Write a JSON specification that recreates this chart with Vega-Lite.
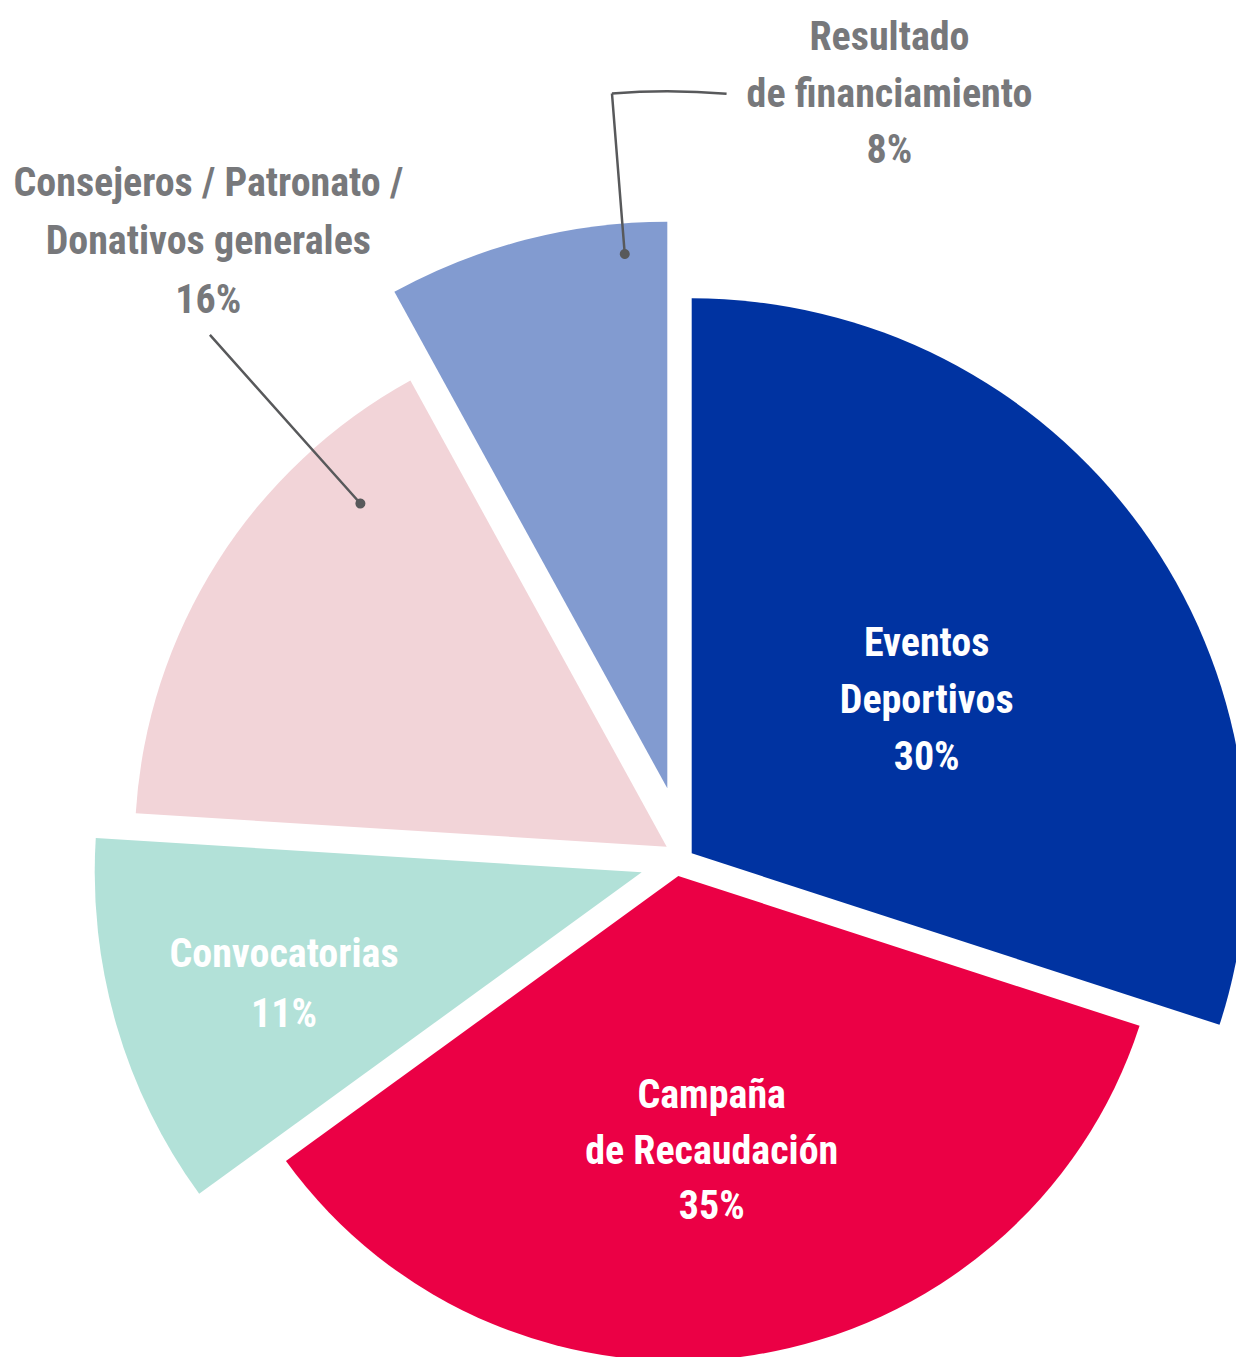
{
  "$schema": "https://vega.github.io/schema/vega-lite/v6.json",
  "width": 1236,
  "height": 1357,
  "autosize": {"type": "none"},
  "padding": 0,
  "background": "white",
  "config": {
    "view": {"stroke": null},
    "text": {"font": "Roboto Condensed, Roboto, sans-serif", "fontWeight": "bold", "fontSize": 40, "align": "center", "baseline": "alphabetic", "lineBreak": "\n", "lineHeight": 57}
  },
  "data": {
    "values": [
      {"fuente": "Eventos Deportivos", "etiqueta": "Eventos\nDeportivos", "participacion": 0.30},
      {"fuente": "Campaña de Recaudación", "etiqueta": "Campaña\nde Recaudación", "participacion": 0.35},
      {"fuente": "Convocatorias", "etiqueta": "Convocatorias", "participacion": 0.11},
      {"fuente": "Consejeros / Patronato / Donativos generales", "etiqueta": "Consejeros / Patronato /\nDonativos generales", "participacion": 0.16},
      {"fuente": "Resultado de financiamiento", "etiqueta": "Resultado\nde financiamiento", "participacion": 0.08}
    ]
  },
  "transform": [
    {"stack": "participacion", "groupby": [], "as": ["inicio", "fin"]}
  ],
  "layer": [
    {
      "transform": [{"filter": {"field": "fuente", "equal": "Eventos Deportivos"}}],
      "mark": {"type": "arc", "x": 691.7, "y": 853.3, "radius": 555},
      "encoding": {
        "theta": {"field": "inicio", "type": "quantitative", "stack": null, "scale": {"domain": [0, 1]}},
        "theta2": {"field": "fin"},
        "color": {"field": "fuente", "type": "nominal", "legend": null, "scale": {"domain": ["Eventos Deportivos", "Campaña de Recaudación", "Convocatorias", "Consejeros / Patronato / Donativos generales", "Resultado de financiamiento"], "range": ["#0033A1", "#EB0045", "#B2E1D8", "#F2D4D8", "#829BD0"]}}
      }
    },
    {
      "transform": [{"filter": {"field": "fuente", "equal": "Campaña de Recaudación"}}],
      "mark": {"type": "arc", "x": 678.3, "y": 876, "radius": 485},
      "encoding": {
        "theta": {"field": "inicio", "type": "quantitative", "stack": null},
        "theta2": {"field": "fin"},
        "color": {"field": "fuente", "type": "nominal", "legend": null}
      }
    },
    {
      "transform": [{"filter": {"field": "fuente", "equal": "Convocatorias"}}],
      "mark": {"type": "arc", "x": 641.7, "y": 872.3, "radius": 547},
      "encoding": {
        "theta": {"field": "inicio", "type": "quantitative", "stack": null},
        "theta2": {"field": "fin"},
        "color": {"field": "fuente", "type": "nominal", "legend": null}
      }
    },
    {
      "transform": [{"filter": {"field": "fuente", "equal": "Consejeros / Patronato / Donativos generales"}}],
      "mark": {"type": "arc", "x": 666.7, "y": 846.7, "radius": 532},
      "encoding": {
        "theta": {"field": "inicio", "type": "quantitative", "stack": null},
        "theta2": {"field": "fin"},
        "color": {"field": "fuente", "type": "nominal", "legend": null}
      }
    },
    {
      "transform": [{"filter": {"field": "fuente", "equal": "Resultado de financiamiento"}}],
      "mark": {"type": "arc", "x": 667.3, "y": 788.3, "radius": 566.5},
      "encoding": {
        "theta": {"field": "inicio", "type": "quantitative", "stack": null},
        "theta2": {"field": "fin"},
        "color": {"field": "fuente", "type": "nominal", "legend": null}
      }
    },
    {
      "transform": [{"filter": {"field": "fuente", "equal": "Resultado de financiamiento"}}],
      "mark": {"type": "arc", "x": 667.3, "y": 788.3, "radius": 697, "radius2": 536, "thetaOffset": 0.4232, "theta2Offset": 0.4232, "filled": false, "stroke": "#58595B", "strokeWidth": 2.5},
      "encoding": {
        "theta": {"field": "inicio", "type": "quantitative", "stack": null},
        "theta2": {"field": "inicio"}
      }
    },
    {
      "transform": [{"filter": {"field": "fuente", "equal": "Resultado de financiamiento"}}],
      "mark": {"type": "arc", "x": 667.3, "y": 788.3, "radius": 697, "radius2": 697, "thetaOffset": 0.4232, "theta2Offset": 0.5878, "filled": false, "stroke": "#58595B", "strokeWidth": 2.5},
      "encoding": {
        "theta": {"field": "inicio", "type": "quantitative", "stack": null},
        "theta2": {"field": "inicio"}
      }
    },
    {
      "transform": [{"filter": {"field": "fuente", "equal": "Resultado de financiamiento"}}],
      "mark": {"type": "arc", "x": 667.3, "y": 788.3, "radius": 541, "radius2": 531, "thetaOffset": 0.4139, "theta2Offset": 0.4325, "cornerRadius": 5, "fill": "#58595B"},
      "encoding": {
        "theta": {"field": "inicio", "type": "quantitative", "stack": null},
        "theta2": {"field": "inicio"}
      }
    },
    {
      "transform": [{"filter": {"field": "fuente", "equal": "Consejeros / Patronato / Donativos generales"}}],
      "mark": {"type": "arc", "x": 666.7, "y": 846.7, "radius": 686, "radius2": 460, "thetaOffset": 0.7793, "theta2Offset": 0.7793, "filled": false, "stroke": "#58595B", "strokeWidth": 2.5},
      "encoding": {
        "theta": {"field": "inicio", "type": "quantitative", "stack": null},
        "theta2": {"field": "inicio"}
      }
    },
    {
      "transform": [{"filter": {"field": "fuente", "equal": "Consejeros / Patronato / Donativos generales"}}],
      "mark": {"type": "arc", "x": 666.7, "y": 846.7, "radius": 465, "radius2": 455, "thetaOffset": 0.7684, "theta2Offset": 0.7902, "cornerRadius": 5, "fill": "#58595B"},
      "encoding": {
        "theta": {"field": "inicio", "type": "quantitative", "stack": null},
        "theta2": {"field": "inicio"}
      }
    },
    {
      "transform": [{"filter": {"field": "fuente", "equal": "Eventos Deportivos"}}],
      "mark": {"type": "text", "x": 691.7, "y": 853.3, "radius": 249.3, "thetaOffset": 1.2301, "dy": -114, "color": "white"},
      "encoding": {
        "theta": {"field": "inicio", "type": "quantitative", "stack": null},
        "text": {"field": "etiqueta"}
      }
    },
    {
      "transform": [{"filter": {"field": "fuente", "equal": "Eventos Deportivos"}}],
      "mark": {"type": "text", "x": 691.7, "y": 853.3, "radius": 249.3, "thetaOffset": 1.2301, "color": "white"},
      "encoding": {
        "theta": {"field": "inicio", "type": "quantitative", "stack": null},
        "text": {"field": "participacion", "type": "quantitative", "format": ".0%"}
      }
    },
    {
      "transform": [{"filter": {"field": "fuente", "equal": "Campaña de Recaudación"}}],
      "mark": {"type": "text", "x": 678.3, "y": 876, "radius": 344.9, "thetaOffset": 1.1596, "dy": -111, "lineHeight": 55.5, "color": "white"},
      "encoding": {
        "theta": {"field": "inicio", "type": "quantitative", "stack": null},
        "text": {"field": "etiqueta"}
      }
    },
    {
      "transform": [{"filter": {"field": "fuente", "equal": "Campaña de Recaudación"}}],
      "mark": {"type": "text", "x": 678.3, "y": 876, "radius": 344.9, "thetaOffset": 1.1596, "color": "white"},
      "encoding": {
        "theta": {"field": "inicio", "type": "quantitative", "stack": null},
        "text": {"field": "participacion", "type": "quantitative", "format": ".0%"}
      }
    },
    {
      "transform": [{"filter": {"field": "fuente", "equal": "Convocatorias"}}],
      "mark": {"type": "text", "x": 641.7, "y": 872.3, "radius": 389.6, "thetaOffset": 0.2208, "dy": -60, "color": "white"},
      "encoding": {
        "theta": {"field": "inicio", "type": "quantitative", "stack": null},
        "text": {"field": "etiqueta"}
      }
    },
    {
      "transform": [{"filter": {"field": "fuente", "equal": "Convocatorias"}}],
      "mark": {"type": "text", "x": 641.7, "y": 872.3, "radius": 389.6, "thetaOffset": 0.2208, "color": "white"},
      "encoding": {
        "theta": {"field": "inicio", "type": "quantitative", "stack": null},
        "text": {"field": "participacion", "type": "quantitative", "format": ".0%"}
      }
    },
    {
      "transform": [{"filter": {"field": "fuente", "equal": "Consejeros / Patronato / Donativos generales"}}],
      "mark": {"type": "text", "x": 666.7, "y": 846.7, "radius": 703.8, "thetaOffset": 0.7987, "dy": -117, "lineHeight": 58.5, "color": "#77787B"},
      "encoding": {
        "theta": {"field": "inicio", "type": "quantitative", "stack": null},
        "text": {"field": "etiqueta"}
      }
    },
    {
      "transform": [{"filter": {"field": "fuente", "equal": "Consejeros / Patronato / Donativos generales"}}],
      "mark": {"type": "text", "x": 666.7, "y": 846.7, "radius": 703.8, "thetaOffset": 0.7987, "color": "#77787B"},
      "encoding": {
        "theta": {"field": "inicio", "type": "quantitative", "stack": null},
        "text": {"field": "participacion", "type": "quantitative", "format": ".0%"}
      }
    },
    {
      "transform": [{"filter": {"field": "fuente", "equal": "Resultado de financiamiento"}}],
      "mark": {"type": "text", "x": 667.3, "y": 788.3, "radius": 663.3, "thetaOffset": 0.8442, "dy": -113, "lineHeight": 56.5, "color": "#77787B"},
      "encoding": {
        "theta": {"field": "inicio", "type": "quantitative", "stack": null},
        "text": {"field": "etiqueta"}
      }
    },
    {
      "transform": [{"filter": {"field": "fuente", "equal": "Resultado de financiamiento"}}],
      "mark": {"type": "text", "x": 667.3, "y": 788.3, "radius": 663.3, "thetaOffset": 0.8442, "color": "#77787B"},
      "encoding": {
        "theta": {"field": "inicio", "type": "quantitative", "stack": null},
        "text": {"field": "participacion", "type": "quantitative", "format": ".0%"}
      }
    }
  ]
}
